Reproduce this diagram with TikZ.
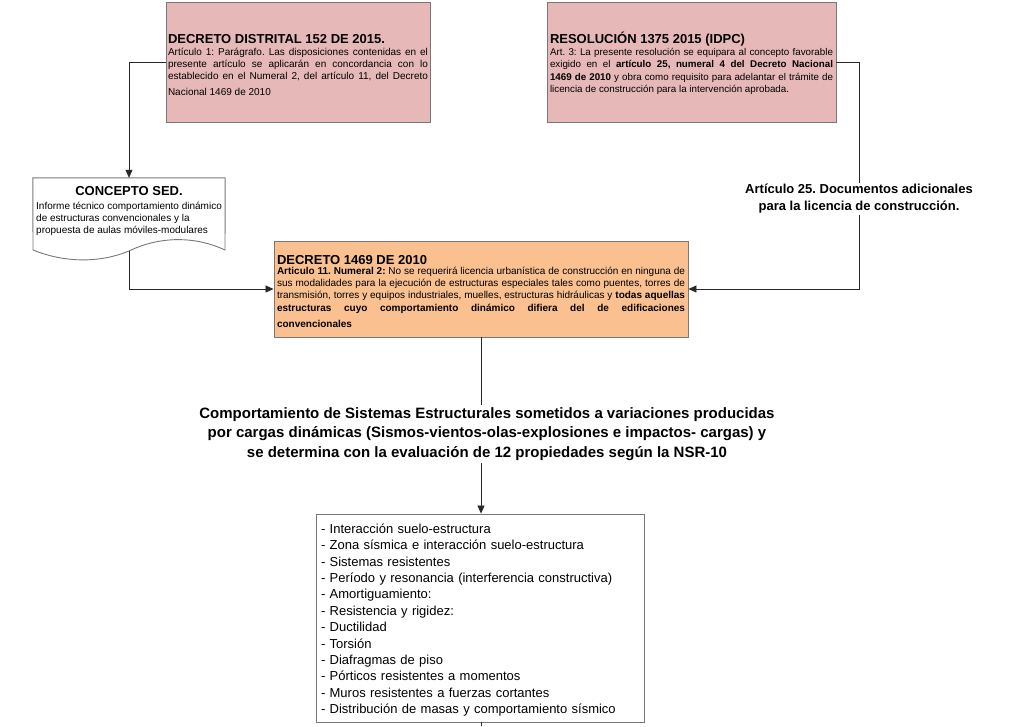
\documentclass[tikz,border=0pt]{standalone}
\usepackage{fontspec}
\setmainfont{Liberation Sans}
\usetikzlibrary{arrows.meta,calc}
\definecolor{pinkfill}{RGB}{230,185,184}
\definecolor{peachfill}{RGB}{250,192,144}
\definecolor{edgegray}{RGB}{120,120,120}
\definecolor{linegray}{RGB}{40,40,40}
\frenchspacing
\hyphenpenalty=10000
\exhyphenpenalty=10000
\hbadness=10000
\newcommand{\topstrut}[1]{\rule{0pt}{#1}}
\begin{document}
\begin{tikzpicture}[x=1pt,y=-1pt,
  box/.style={draw=edgegray,line width=0.9pt,inner ysep=2pt,align=justify},
  pinkbox/.style={box,fill=pinkfill},
  peachbox/.style={box,fill=peachfill},
  whitebox/.style={draw=edgegray,line width=0.9pt,fill=white,align=left},
  conn/.style={draw=linegray,line width=0.8pt},
  arr/.style={conn,-{Triangle[width=7pt,length=8pt]}},
  plain/.style={inner sep=1pt,align=center}]
\useasboundingbox (0,0) rectangle (1024,726);

% Box A
\node[pinkbox,inner xsep=2pt,minimum width=264,minimum height=120,text width=260] (A) at (298,62)
 {{\fontsize{13}{15}\selectfont\bfseries\topstrut{15.3pt}DECRETO DISTRITAL 152 DE 2015.\par}
  {\fontsize{10}{12}\selectfont\parfillskip=0pt Artículo 1: Parágrafo. Las disposiciones contenidas en el\linebreak presente artículo se aplicarán en concordancia con lo\linebreak establecido en el Numeral 2, del artículo 11, del Decreto\par}
  \vspace{4pt}{\fontsize{10}{12}\selectfont Nacional 1469 de 2010\par}};

% Box B
\node[pinkbox,inner xsep=3pt,minimum width=289,minimum height=120,text width=283] (B) at (691.5,62)
 {{\fontsize{13}{15}\selectfont\bfseries\topstrut{14pt}RESOLUCIÓN 1375 2015 (IDPC)\par}
  {\fontsize{9.8}{12.2}\selectfont Art. 3: La presente resolución se equipara al concepto favorable\linebreak exigido en el \textbf{artículo 25, numeral 4 del Decreto Nacional\linebreak 1469 de 2010} y obra como requisito para adelantar el trámite de\linebreak licencia de construcción para la intervención aprobada.\par}};

% Concepto SED (document shape)
\node[minimum width=192,minimum height=72,inner sep=0pt] (sed) at (129,214) {};
\draw[draw=edgegray,line width=0.9pt,fill=white]
  (sed.north west) -- (sed.north east) -- (225,250)
  .. controls (195,236) and (160,236) .. (129,251)
  .. controls (100,263) and (65,263) .. (33,250) -- cycle;
\node[plain,anchor=north,font={\fontsize{13}{15}\selectfont\bfseries}] (sedtitle) at (129,185)
 {CONCEPTO SED.};
\node[inner sep=0pt,anchor=north west,align=left,font={\fontsize{10}{12}\selectfont}] (sedbody) at (36,202)
 {Informe técnico comportamiento dinámico\\de estructuras convencionales y la\\propuesta de aulas móviles-modulares};
\coordinate (sedbot) at (129,251);

% Box D
\node[peachbox,inner xsep=3pt,minimum width=414,minimum height=96,text width=408] (D) at (481,289)
 {{\fontsize{13}{15}\selectfont\bfseries\topstrut{13.3pt}DECRETO 1469 DE 2010\par}\vspace{-2pt}
  {\fontsize{10}{12.3}\selectfont\parfillskip=0pt \textbf{Articulo 11. Numeral 2:} No se requerirá licencia urbanística de construcción en ninguna de\linebreak sus modalidades para la ejecución de estructuras especiales tales como puentes, torres de\linebreak transmisión, torres y equipos industriales, muelles, estructuras hidráulicas y \textbf{todas aquellas\linebreak estructuras cuyo comportamiento dinámico difiera del de edificaciones}\par}
  \vspace{4pt}{\fontsize{10}{12}\selectfont\bfseries convencionales\par}};

% Articulo 25 label
\node[plain,font={\fontsize{13}{17}\selectfont\bfseries}] (art25) at (859,199)
 {Artículo 25. Documentos adicionales\\para la licencia de construcción.};

% Comportamiento text
\node[plain,inner sep=2pt,font={\fontsize{15}{19.5}\selectfont\bfseries}] (comp) at (487,434)
 {Comportamiento de Sistemas Estructurales sometidos a variaciones producidas\\por cargas dinámicas (Sismos-vientos-olas-explosiones e impactos- cargas) y\\se determina con la evaluación de 12 propiedades según la NSR-10};

% Box E
\node[whitebox,inner xsep=5pt,minimum width=328,minimum height=208,text width=318,font={\fontsize{13}{16.4}\selectfont}] (E) at (480,618)
 {\topstrut{13.5pt}- Interacción suelo-estructura\\
  - Zona sísmica e interacción suelo-estructura\\
  - Sistemas resistentes\\
  - Período y resonancia (interferencia constructiva)\\
  - Amortiguamiento:\\
  - Resistencia y rigidez:\\
  - Ductilidad\\
  - Torsión\\
  - Diafragmas de piso\\
  - Pórticos resistentes a momentos\\
  - Muros resistentes a fuerzas cortantes\\
  - Distribución de masas y comportamiento sísmico};
\coordinate (Eout) at (481,726);

% Connectors
\draw[arr] (A.west) -| (sed.north);
\draw[arr] (sedbot) |- (D.west);
\draw[conn] (B.east) -| (art25.north);
\draw[arr] (art25.south) |- (D.east);
\draw[conn] (D.south) -- (D.south |- comp.north);
\draw[arr] (D.south |- comp.south) -- (D.south |- E.north);
\draw[conn] (D.south |- E.south) -- (Eout);
\end{tikzpicture}
\end{document}
